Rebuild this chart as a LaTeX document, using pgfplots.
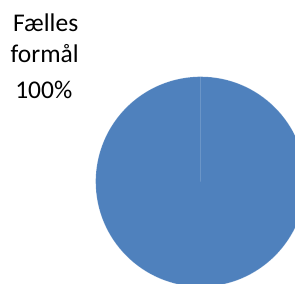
\documentclass[border=0pt]{standalone}
\usepackage{pgfplots}
\pgfplotsset{compat=1.18}
\usepackage{pgfplotstable}
\usepackage{fontspec}
\setmainfont{Carlito}
\definecolor{pieblue}{HTML}{4F81BD}
\pgfplotstableread{
label value
Faelles 100
}\piedata
\begin{document}
\begin{tikzpicture}
\pgfplotstablegetelem{0}{value}\of\piedata
\let\slicevalue\pgfplotsretval
\begin{axis}[
  x=1bp, y=1bp,
  xmin=0, xmax=295, ymin=0, ymax=284,
  hide axis,
  clip=true,
  anchor=origin, at={(0,0)},
]
\addplot[draw=none, forget plot] coordinates {(0,0) (295,284)};
\pgfmathsetmacro\endang{90-3.6*\slicevalue}
\fill[pieblue, draw=white, draw opacity=0.25, line width=0.5bp]
  (axis cs:200.7,102.3) -- ++(0,105bp) arc[start angle=90, end angle=\endang, radius=105bp] -- cycle;
\tikzset{lbl/.style={font=\fontsize{25.5bp}{30bp}\selectfont, anchor=base, inner sep=0pt}}
\node[lbl] at (axis cs:45.7,252.3) {Fælles};
\node[lbl] at (axis cs:44.7,221.7) {formål};
\node[lbl] at (axis cs:43.8,186) {\slicevalue\%};
\end{axis}
\useasboundingbox (0,0) rectangle (295bp,284bp);
\end{tikzpicture}
\end{document}
